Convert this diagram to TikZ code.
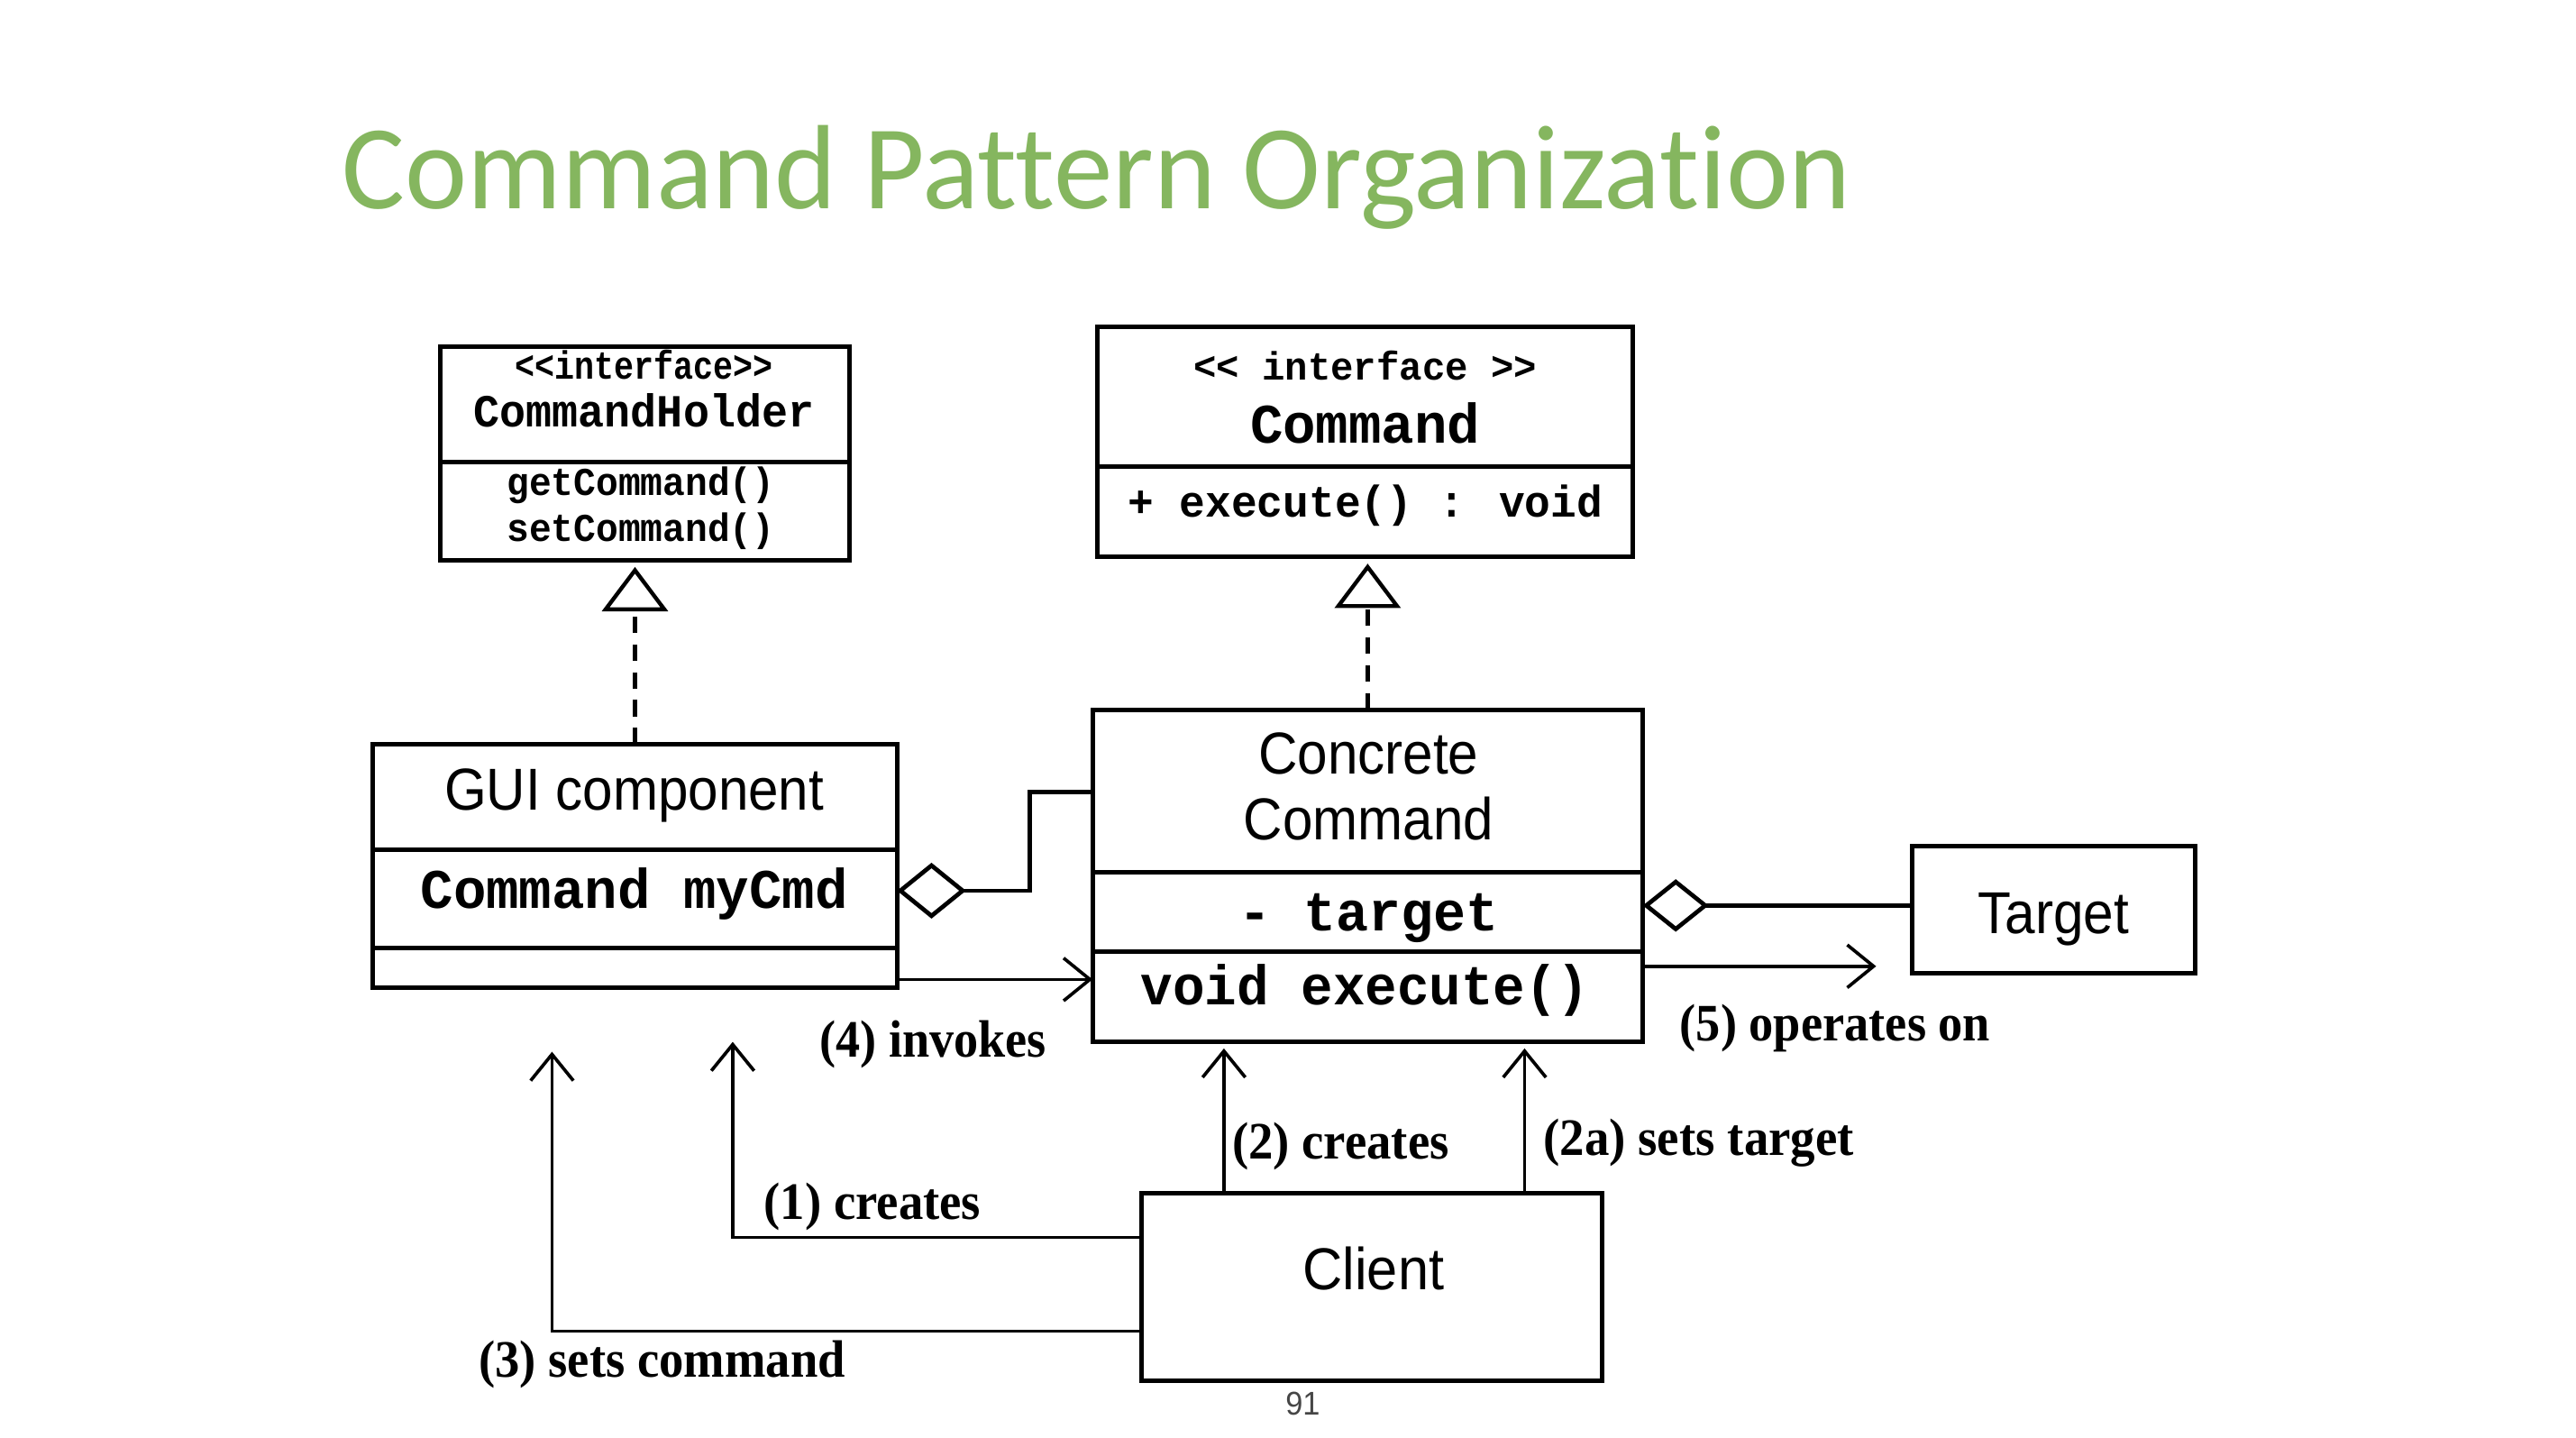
\documentclass[tikz,border=0pt]{standalone}
\usepackage{fontspec}
\usepackage{graphicx}
\setmainfont{Liberation Serif}
\newfontfamily\arialf{Liberation Sans}
\newfontfamily\courf{Liberation Mono}
\newfontfamily\calibf[Ligatures=NoCommon]{Carlito}
\usetikzlibrary{arrows.meta}
\definecolor{titlegreen}{RGB}{133,182,95}
\definecolor{pagegray}{RGB}{70,70,70}
\newcommand{\fitw}[2]{\resizebox{#1}{\height}{#2}}
\begin{document}
\begin{tikzpicture}[x=0.5pt,y=-0.5pt,
 box/.style={draw, line width=1.4pt, rectangle, inner sep=0pt, outer sep=0pt},
 divider/.style={line width=1.4pt},
 mono/.style={inner sep=0pt, anchor=center, font=\courf\bfseries\fontsize{#1}{#1}\selectfont, text height={0.62*#1pt}, text depth=0pt},
 sans/.style={inner sep=0pt, anchor=center, font=\arialf\fontsize{#1}{#1}\selectfont, text height={0.72*#1pt}, text depth=0pt},
 lbl/.style={inner sep=0pt, anchor=center, font=\bfseries\fontsize{#1}{#1}\selectfont, text height={0.7*#1pt}, text depth=0pt},
 assoc/.style={line width=1.3pt},
 flow/.style={line width=1pt, -{Straight Barb[length=8pt,width=13pt,line width=1pt]}},
 realize/.style={line width=1.2pt, dash pattern=on 5pt off 3.5pt, -{Triangle[open,length=13.5pt,width=20pt,line width=1.2pt]}, shorten >=2pt}
]
\fill[white] (0,0) rectangle (1568,875);
\useasboundingbox (0,0) rectangle (1568,875);

% title
\node[inner sep=0pt, anchor=base west, font=\calibf\fontsize{36.5}{40}\selectfont, text=titlegreen] (title) at (208,127) {\fitw{459pt}{Command Pattern Organization}};

% boxes
\node[box, minimum width=124.5pt, minimum height=65pt] (holder) at (392.5,276) {};
\node[box, minimum width=163pt, minimum height=70pt] (cmd) at (831,269) {};
\node[box, minimum width=159.5pt, minimum height=74pt] (gui) at (386.5,527) {};
\node[box, minimum width=167.5pt, minimum height=101pt] (conc) at (832.5,533) {};
\node[box, minimum width=86pt, minimum height=38.5pt] (target) at (1250,553.5) {};
\node[box, minimum width=140pt, minimum height=57pt] (client) at (835,783) {};

% dividers
\draw[divider] (holder.west |- 0,281) -- (holder.east |- 0,281);
\draw[divider] (cmd.west |- 0,284) -- (cmd.east |- 0,284);
\draw[divider] (gui.west |- 0,517) -- (gui.east |- 0,517);
\draw[divider] (gui.west |- 0,577) -- (gui.east |- 0,577);
\draw[divider] (conc.west |- 0,531) -- (conc.east |- 0,531);
\draw[divider] (conc.west |- 0,579) -- (conc.east |- 0,579);

% box texts
\node[mono=12] (hint) at (392,223) {\fitw{78.5pt}{<<interface>>}};
\node[mono=14] (hname) at (392,251) {\fitw{103.5pt}{CommandHolder}};
\node[mono=12] (hget) at (390,294) {\fitw{81.5pt}{getCommand()}};
\node[mono=12] (hset) at (390,322) {\fitw{81.5pt}{setCommand()}};

\node[mono=12] (cint) at (831,224) {\fitw{104.5pt}{<< interface >>}};
\node[mono=17] (cname) at (831,259) {\fitw{70pt}{Command}};
\node[mono=13.5] (cop) at (831,306) {\fitw{144.5pt}{+ execute() : void}};

\node[sans=18] (guiname) at (386,480) {\fitw{115.5pt}{GUI component}};
\node[mono=17] (guifield) at (386,542) {\fitw{130pt}{Command myCmd}};

\node[sans=18] (concA) at (833,458) {\fitw{67pt}{Concrete}};
\node[sans=18] (concB) at (833,498) {\fitw{76pt}{Command}};
\node[mono=17] (concfield) at (833,556) {\fitw{79pt}{- target}};
\node[mono=17] (concop) at (831,601) {\fitw{136.5pt}{void execute()}};

\node[sans=18] (tname) at (1250,555) {\fitw{46pt}{Target}};
\node[sans=18] (clname) at (836,772) {\fitw{43pt}{Client}};

% realization arrows
\draw[realize] (gui.north) -- (gui.north |- holder.south);
\draw[realize] (conc.north) -- (conc.north |- cmd.south);

% aggregations
\draw[assoc, {Diamond[open,length=21pt,width=17pt,line width=1.3pt]}-] (gui.east |- 0,542) -- (627,542) |- (conc.west |- 0,482);
\draw[assoc, {Diamond[open,length=20pt,width=16pt,line width=1.3pt]}-] (conc.east |- 0,551) -- (target.west |- 0,551);

% flows
\coordinate (e5) at (1142,588);
\coordinate (a1) at (446,634);
\coordinate (a3) at (336,640);
\draw[flow] (gui.east |- 0,596) -- (conc.west |- 0,596);
\draw[flow] (conc.east |- 0,588) -- (e5);
\draw[flow, shorten >=2pt] (client.north -| 745,0) -- (conc.south -| 745,0);
\draw[flow, shorten >=2pt] (client.north -| 928,0) -- (conc.south -| 928,0);
\draw[flow] (client.west |- 0,753) -| (a1);
\draw[flow] (client.west |- 0,810) -| (a3);

% labels
\node[lbl=16] (l4) at (568,632) {\fitw{69pt}{(4) invokes}};
\node[lbl=16] (l5) at (1117,622) {\fitw{94.5pt}{(5) operates on}};
\node[lbl=16] (l2) at (816,694) {\fitw{66pt}{(2) creates}};
\node[lbl=16] (l2a) at (1034,692) {\fitw{94.5pt}{(2a) sets target}};
\node[lbl=16] (l1) at (531,731) {\fitw{66pt}{(1) creates}};
\node[lbl=16] (l3) at (403,827) {\fitw{111.5pt}{(3) sets command}};

% page number
\node[sans=10, text=pagegray] (pnum) at (793,854) {\fitw{10.5pt}{91}};
\end{tikzpicture}
\end{document}
